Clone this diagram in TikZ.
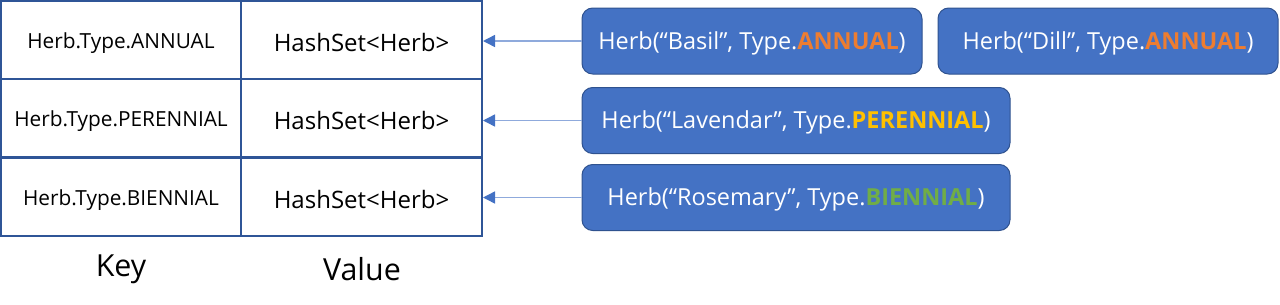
\documentclass[tikz,border=0pt]{standalone}
\usepackage{fontspec}
\setmainfont{Open Sans}
\usetikzlibrary{arrows.meta}
\definecolor{tblline}{HTML}{2F5597}
\definecolor{boxfill}{HTML}{4472C4}
\definecolor{boxline}{HTML}{2F528F}
\definecolor{arrline}{HTML}{8FAADC}
\definecolor{arrhead}{HTML}{4472C4}
\definecolor{cannual}{HTML}{ED7D31}
\definecolor{cperen}{HTML}{FFC000}
\definecolor{cbien}{HTML}{70AD47}
\tikzset{
  cell/.style={draw=tblline, line width=1.5pt, minimum height=78*0.75pt, inner sep=0pt, anchor=center, text depth=1pt},
  keycell/.style={cell, minimum width=240*0.75pt, font=\fontsize{15.6}{18}\selectfont, text height=14.4pt},
  valcell/.style={cell, minimum width=241*0.75pt, font=\fontsize{18}{21}\selectfont, text height=18.4pt},
  herb/.style={draw=boxline, line width=0.75pt, fill=boxfill, rounded corners=8pt, text=white, inner sep=0pt, font=\fontsize{17.6}{21}\selectfont, minimum height=66*0.75pt, text height=13.6pt, text depth=1pt},
  link/.style={draw=arrline, line width=1.1pt, -{Triangle[length=9pt,width=9pt,fill=arrhead,color=arrhead]}},
  foot/.style={font=\fontsize{22.8}{27}\selectfont}
}
\begin{document}
\begin{tikzpicture}[x=0.75pt,y=-0.75pt]
\useasboundingbox (0,0) rectangle (1280,304);
\node[keycell] (k1) at (121,39.5) {Herb.Type.ANNUAL};
\node[valcell] (v1) at (361.5,39.5) {HashSet<Herb>};
\node[keycell] (k2) at (121,117.5) {Herb.Type.PERENNIAL};
\node[valcell] (v2) at (361.5,117.5) {HashSet<Herb>};
\node[keycell] (k3) at (121,196.5) {Herb.Type.BIENNIAL};
\node[valcell] (v3) at (361.5,196.5) {HashSet<Herb>};
\node[foot] (key) at (121,269) {Key};
\node[foot] (val) at (362,269) {Value};

\node[herb, minimum width=340*0.75pt] (b1) at (752,41) {Herb(“Basil”, Type.{\bfseries\color{cannual}ANNUAL})};
\node[herb, minimum width=340*0.75pt] (b2) at (1108,41) {Herb(“Dill”, Type.{\bfseries\color{cannual}ANNUAL})};
\node[herb, minimum width=428*0.75pt] (b3) at (796,120.5) {Herb(“Lavendar”, Type.{\bfseries\color{cperen}PERENNIAL})};
\node[herb, minimum width=428*0.75pt] (b4) at (796,197.5) {Herb(“Rosemary”, Type.{\bfseries\color{cbien}BIENNIAL})};

\draw[link] (b1.west) -- (b1.west -| v1.east);
\draw[link] (b3.west) -- (b3.west -| v2.east);
\draw[link] (b4.west) -- (b4.west -| v3.east);
\end{tikzpicture}
\end{document}
